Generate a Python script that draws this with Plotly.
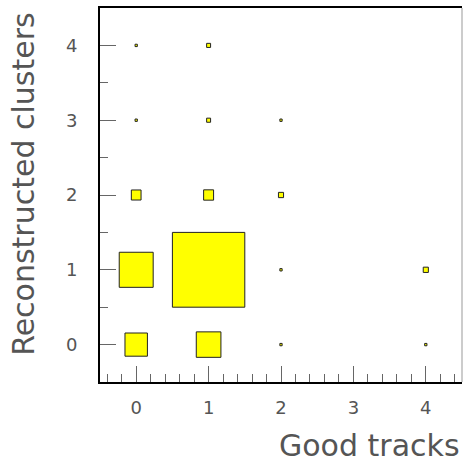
import plotly.graph_objects as go

# Data: (good tracks, reconstructed clusters, counts)
good_tracks = [0, 1, 2, 4, 0, 1, 2, 4, 0, 1, 2, 0, 1, 2, 0, 1]
rec_clusters = [0, 0, 0, 0, 1, 1, 1, 1, 2, 2, 2, 3, 3, 3, 4, 4]
counts = [96, 116, 1, 1, 220, 1000, 1, 5, 18, 19, 5, 1, 3, 1, 1, 3]

tick_vals = [0, 1, 2, 3, 4]
tick_text = ["0", "1", "2", "3", "4"]

xtitle = "Good tracks"
ytitle = "Reconstructed clusters"

cmax = max(counts)
shapes = []
for gx, ry, c in zip(good_tracks, rec_clusters, counts):
    half = 0.5 * (c / cmax) ** 0.5
    shapes.append(dict(type="rect", xref="x", yref="y",
                       x0=gx - half, x1=gx + half, y0=ry - half, y1=ry + half,
                       fillcolor="#ffff00", line=dict(color="#222222", width=1),
                       layer="above"))
# right frame line
shapes.append(dict(type="line", xref="paper", yref="paper", x0=1, x1=1, y0=0, y1=1,
                   line=dict(color="#999999", width=1)))

fig = go.Figure()
fig.add_trace(go.Scatter(x=good_tracks, y=rec_clusters, mode="markers",
                         marker=dict(size=1, opacity=0), hoverinfo="skip", showlegend=False))

font_family = "DejaVu Sans, sans-serif"
fig.update_layout(
    width=463, height=464,
    margin=dict(l=100, r=1, t=8, b=82),
    plot_bgcolor="white", paper_bgcolor="white",
    shapes=shapes,
    showlegend=False,
    xaxis=dict(range=[-0.5, 4.5], tickvals=tick_vals, ticktext=tick_text,
               ticks="inside", ticklen=16, tickwidth=1, tickcolor="#666666",
               minor=dict(dtick=0.2, tick0=0, ticks="inside", ticklen=8, tickcolor="#666666"),
               showline=True, linecolor="black", linewidth=2, mirror=True,
               showgrid=False, zeroline=False,
               tickfont=dict(family=font_family, size=18, color="#555555"),
               ticklabelstandoff=8),
    yaxis=dict(range=[-0.5, 4.5], tickvals=tick_vals, ticktext=tick_text,
               ticks="inside", ticklen=16, tickwidth=1, tickcolor="#666666",
               minor=dict(dtick=0.5, tick0=0, ticks="inside", ticklen=8, tickcolor="#666666"),
               showline=True, linecolor="black", linewidth=2,
               showgrid=False, zeroline=False,
               tickfont=dict(family=font_family, size=18, color="#555555"),
               ticklabelstandoff=17),
    annotations=[
        dict(text=xtitle, xref="paper", yref="paper", x=1, y=-0.171,
             xanchor="right", yanchor="middle", showarrow=False,
             font=dict(family=font_family, size=30, color="#555555")),
        dict(text=ytitle, xref="paper", yref="paper", x=-0.21, y=0.995,
             xanchor="center", yanchor="top", textangle=-90, showarrow=False,
             font=dict(family=font_family, size=30, color="#555555")),
    ],
)

fig.write_html("out.html")
